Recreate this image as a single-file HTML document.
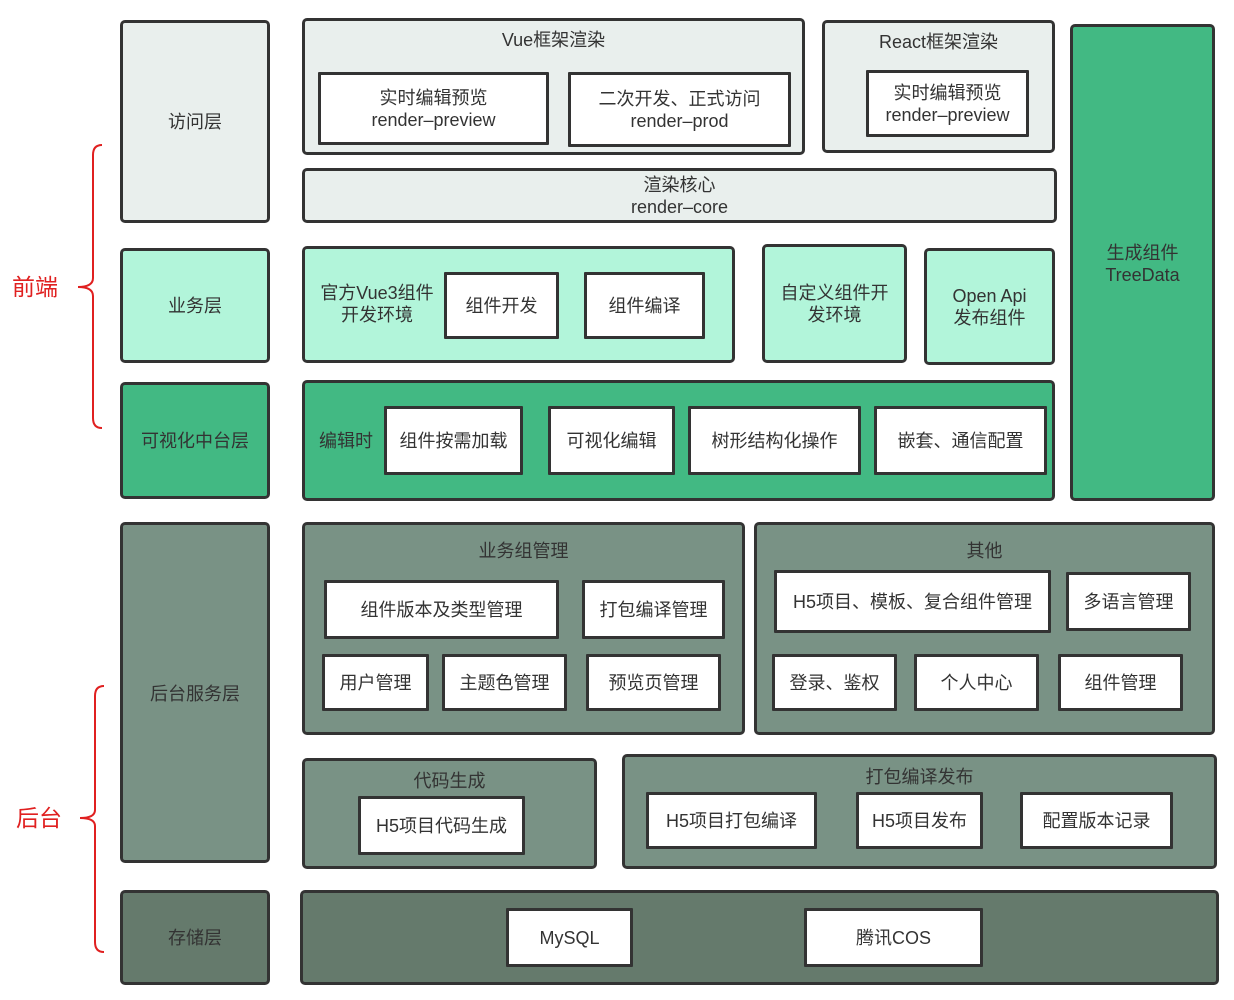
<!DOCTYPE html>
<html><head><meta charset="utf-8"><style>
body{margin:0;width:1234px;height:1000px;background:#fff;position:relative;overflow:hidden;font-family:"Liberation Sans","Noto Sans CJK SC",sans-serif;color:#333}
.b{position:absolute;box-sizing:border-box;border:3px solid #333;border-radius:5px;display:flex;align-items:center;justify-content:center;text-align:center;font-size:18px;line-height:22px}
.w{background:#fff;border-radius:1px}
.g{background:#e9efed}.m{background:#b2f5da}.G{background:#42b983}.s{background:#799285}.d{background:#657a6c}
.t{position:absolute;font-size:18px;line-height:22px;text-align:center;white-space:nowrap}
</style></head><body>
<svg style="position:absolute;left:0;top:0" width="120" height="1000">
<path d="M102,145 Q93,145 93,155 L93,278 Q93,287 78,287 Q93,287 93,296 L93,418 Q93,428 102,428" fill="none" stroke="#e02020" stroke-width="2"/>
<path d="M104,686 Q95,686 95,696 L95,810 Q95,818 80,818 Q95,818 95,826 L95,942 Q95,952 104,952" fill="none" stroke="#e02020" stroke-width="2"/>
</svg>
<div class="t" style="left:12px;top:273px;font-size:23px;line-height:28px;color:#e02020">前端</div>
<div class="t" style="left:16px;top:804px;font-size:23px;line-height:28px;color:#e02020">后台</div>

<div class="b g" style="left:120px;top:20px;width:150px;height:203px">访问层</div>
<div class="b m" style="left:120px;top:248px;width:150px;height:115px">业务层</div>
<div class="b G" style="left:120px;top:382px;width:150px;height:117px">可视化中台层</div>
<div class="b s" style="left:120px;top:522px;width:150px;height:341px;align-items:flex-start;padding-top:158px">后台服务层</div>
<div class="b d" style="left:120px;top:890px;width:150px;height:95px">存储层</div>

<div class="b g" style="left:302px;top:18px;width:503px;height:137px"></div>
<div class="t" style="left:302px;top:29px;width:503px">Vue框架渲染</div>
<div class="b w" style="left:318px;top:72px;width:231px;height:73px">实时编辑预览<br>render–preview</div>
<div class="b w" style="left:568px;top:72px;width:223px;height:75px">二次开发、正式访问<br>render–prod</div>
<div class="b g" style="left:822px;top:20px;width:233px;height:133px"></div>
<div class="t" style="left:822px;top:31px;width:233px">React框架渲染</div>
<div class="b w" style="left:866px;top:70px;width:163px;height:67px">实时编辑预览<br>render–preview</div>
<div class="b g" style="left:302px;top:168px;width:755px;height:55px">渲染核心<br>render–core</div>
<div class="b G" style="left:1070px;top:24px;width:145px;height:477px;align-items:flex-start;padding-top:215px">生成组件<br>TreeData</div>

<div class="b m" style="left:302px;top:246px;width:433px;height:117px"></div>
<div class="t" style="left:316px;top:282px;width:122px">官方Vue3组件<br>开发环境</div>
<div class="b w" style="left:444px;top:272px;width:115px;height:67px">组件开发</div>
<div class="b w" style="left:584px;top:272px;width:121px;height:67px">组件编译</div>
<div class="b m" style="left:762px;top:244px;width:145px;height:119px">自定义组件开<br>发环境</div>
<div class="b m" style="left:924px;top:248px;width:131px;height:117px">Open Api<br>发布组件</div>

<div class="b G" style="left:302px;top:380px;width:753px;height:121px;justify-content:flex-start;padding-left:14px">编辑时</div>
<div class="b w" style="left:384px;top:406px;width:139px;height:69px">组件按需加载</div>
<div class="b w" style="left:548px;top:406px;width:127px;height:69px">可视化编辑</div>
<div class="b w" style="left:688px;top:406px;width:173px;height:69px">树形结构化操作</div>
<div class="b w" style="left:874px;top:406px;width:173px;height:69px">嵌套、通信配置</div>

<div class="b s" style="left:302px;top:522px;width:443px;height:213px"></div>
<div class="t" style="left:302px;top:540px;width:443px">业务组管理</div>
<div class="b w" style="left:324px;top:580px;width:235px;height:59px">组件版本及类型管理</div>
<div class="b w" style="left:582px;top:580px;width:143px;height:59px">打包编译管理</div>
<div class="b w" style="left:322px;top:654px;width:107px;height:57px">用户管理</div>
<div class="b w" style="left:442px;top:654px;width:125px;height:57px">主题色管理</div>
<div class="b w" style="left:586px;top:654px;width:135px;height:57px">预览页管理</div>

<div class="b s" style="left:754px;top:522px;width:461px;height:213px"></div>
<div class="t" style="left:754px;top:540px;width:461px">其他</div>
<div class="b w" style="left:774px;top:570px;width:277px;height:63px">H5项目、模板、复合组件管理</div>
<div class="b w" style="left:1066px;top:572px;width:125px;height:59px">多语言管理</div>
<div class="b w" style="left:772px;top:654px;width:125px;height:57px">登录、鉴权</div>
<div class="b w" style="left:914px;top:654px;width:125px;height:57px">个人中心</div>
<div class="b w" style="left:1058px;top:654px;width:125px;height:57px">组件管理</div>

<div class="b s" style="left:302px;top:758px;width:295px;height:111px"></div>
<div class="t" style="left:302px;top:770px;width:295px">代码生成</div>
<div class="b w" style="left:358px;top:796px;width:167px;height:59px">H5项目代码生成</div>
<div class="b s" style="left:622px;top:754px;width:595px;height:115px"></div>
<div class="t" style="left:622px;top:766px;width:595px">打包编译发布</div>
<div class="b w" style="left:646px;top:792px;width:171px;height:57px">H5项目打包编译</div>
<div class="b w" style="left:856px;top:792px;width:127px;height:57px">H5项目发布</div>
<div class="b w" style="left:1020px;top:792px;width:153px;height:57px">配置版本记录</div>

<div class="b d" style="left:300px;top:890px;width:919px;height:95px"></div>
<div class="b w" style="left:506px;top:908px;width:127px;height:59px">MySQL</div>
<div class="b w" style="left:804px;top:908px;width:179px;height:59px">腾讯COS</div>
</body></html>
